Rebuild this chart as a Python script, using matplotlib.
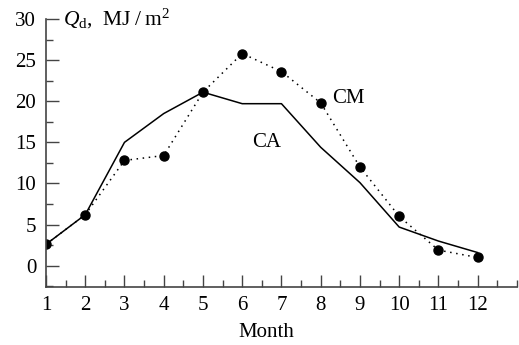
import matplotlib
matplotlib.use('Agg')
import matplotlib.pyplot as plt
from matplotlib.ticker import MultipleLocator

plt.rcParams['font.family'] = ['Liberation Serif', 'DejaVu Serif']
plt.rcParams['mathtext.fontset'] = 'custom'
plt.rcParams['mathtext.rm'] = 'Liberation Serif'
plt.rcParams['mathtext.it'] = 'Liberation Serif:italic'

# data
months = [1, 2, 3, 4, 5, 6, 7, 8, 9, 10, 11, 12]
ca_values = [2.6, 6.2, 15.0, 18.5, 21.1, 19.7, 19.7, 14.4, 10.1, 4.7, 3.0, 1.6]
cm_values = [2.6, 6.2, 12.8, 13.4, 21.1, 25.8, 23.6, 19.8, 12.0, 6.0, 1.9, 1.0]
x_ticks = list(range(1, 13))
y_ticks = [0, 5, 10, 15, 20, 25, 30]

FS = 15

fig = plt.figure(figsize=(5.19, 3.45), dpi=100)
ax = fig.add_axes([0.0886, 0.169, 0.9074, 0.776])

ax.plot(months, ca_values, color='black', linewidth=1.1)
ax.plot(months, cm_values, color='black', linewidth=1.1, linestyle=(0, (1, 3)),
        marker='o', markersize=6.5)

ax.text(8.3, 20.3, 'CM', fontsize=FS, va='center', ha='left')
ax.text(6.25, 15.0, 'CA', fontsize=FS, va='center', ha='left')
ax.text(1.43, 30, r'$Q_\mathrm{d}$,  MJ$\;/\;$m$^2$', fontsize=15.5, va='center', ha='left')

ax.set_xlim(1, 13)
ax.set_ylim(-2.55, 30)
ax.set_xticks(x_ticks)
ax.set_yticks(y_ticks)
ax.xaxis.set_minor_locator(MultipleLocator(0.5))
ax.yaxis.set_minor_locator(MultipleLocator(2.5))
ax.tick_params(which='both', direction='in', labelsize=FS, color='#444444', width=1)
ax.tick_params(which='major', length=9)
ax.tick_params(which='minor', length=5)
ax.tick_params(axis='x', pad=7)
ax.tick_params(axis='y', pad=7)

for side in ['top', 'right']:
    ax.spines[side].set_visible(False)
for side in ['left', 'bottom']:
    ax.spines[side].set_color('#444444')
    ax.spines[side].set_linewidth(1.2)
ax.spines['left'].set_bounds(-2.55, 30)

ax.set_xlabel('Month', fontsize=FS)
ax.xaxis.set_label_coords(0.467, -0.135)

fig.savefig('out.png', dpi=100)
